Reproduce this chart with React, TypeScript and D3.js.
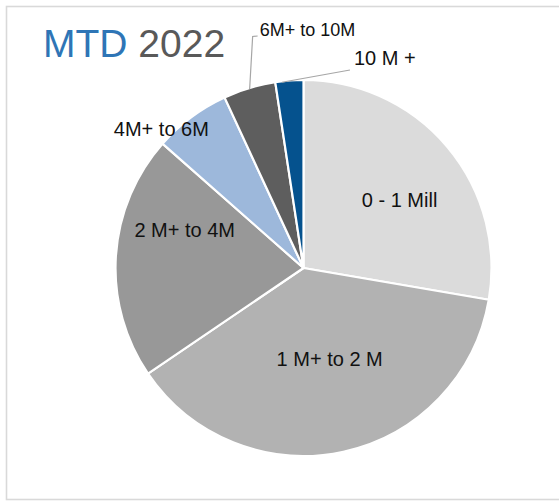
import React from "react";
import * as d3 from "d3";

const categories = ["0 - 1 Mill", "1 M+ to 2 M", "2 M+ to 4M", "4M+ to 6M", "6M+ to 10M", "10 M +"];
const values = [27.7, 37.8, 21.0, 6.6, 4.5, 2.4];
const colors = ["#dbdbdb", "#b2b2b2", "#989898", "#9db8db", "#5e5e5e", "#05528e"];
// label placement: polar angle (deg, clockwise from top) and distance as fraction of radius
const labelAngle = [54.6, 164, 287.7, 314.5, 0, 0];
const labelDist = [0.627, 0.505, 0.663, 1.06, 0, 0];
const labelSize = [20, 20, 20, 20, 18, 20];

const W = 559;
const H = 501;
const cx = 303.5;
const cy = 268;
const R = 188;

export default function App() {
  const pie = d3.pie<number>().sort(null).value((d) => d)(values);
  const arc = d3.arc<d3.PieArcDatum<number>>().innerRadius(0).outerRadius(R);
  const polar = (deg: number, r: number) => {
    const a = (deg * Math.PI) / 180;
    return [cx + Math.sin(a) * r, cy - Math.cos(a) * r];
  };
  const pt = (a: number, r: number) => [cx + Math.sin(a) * r, cy - Math.cos(a) * r];
  // leader lines for small slices
  const p6 = pie[4];
  const p10 = pie[5];
  const a6 = (p6.startAngle + p6.endAngle) / 2;
  const a10 = (p10.startAngle + p10.endAngle) / 2 - 0.04;
  const s6 = pt(a6, R - 1);
  const s10 = pt(a10, R - 1);
  return (
    <svg
      width={W}
      height={H}
      style={{ position: "absolute", left: 0, top: 0, fontFamily: "'Liberation Sans', Arial, sans-serif" }}
    >
      <rect x={0} y={0} width={W} height={H} fill="#fff" />
      <rect x={6.5} y={6.5} width={W + 10} height={493} fill="none" stroke="#d9d9d9" strokeWidth={1.6} />
      <text x={43} y={57} fontSize={39}>
        <tspan fill="#2e75b6">MTD</tspan>
        <tspan fill="#595959"> 2022</tspan>
      </text>
      <g transform={`translate(${cx},${cy})`}>
        {pie.map((d, i) => (
          <path key={i} d={arc(d) || ""} fill={colors[i]} stroke="#fff" strokeWidth={2.2} strokeLinejoin="round" />
        ))}
      </g>
      {pie.slice(0, 4).map((d, i) => {
        const [x, y] = polar(labelAngle[i], labelDist[i] * R);
        return (
          <text key={i} x={x} y={y} dy="0.36em" textAnchor="middle" fontSize={labelSize[i]} fill="#111">
            {categories[i]}
          </text>
        );
      })}
      <polyline
        points={`${s6[0]},${s6[1]} ${s6[0] + 3},36.5 ${s6[0] + 8},36`}
        fill="none"
        stroke="#a6a6a6"
        strokeWidth={1.2}
      />
      <text x={s6[0] + 10} y={36} fontSize={labelSize[4]} fill="#111">
        {categories[4]}
      </text>
      <polyline
        points={`${s10[0]},${s10[1]} ${s10[0] + 68},70`}
        fill="none"
        stroke="#a6a6a6"
        strokeWidth={1.2}
      />
      <text x={s10[0] + 72} y={65} fontSize={labelSize[5]} fill="#111">
        {categories[5]}
      </text>
    </svg>
  );
}
